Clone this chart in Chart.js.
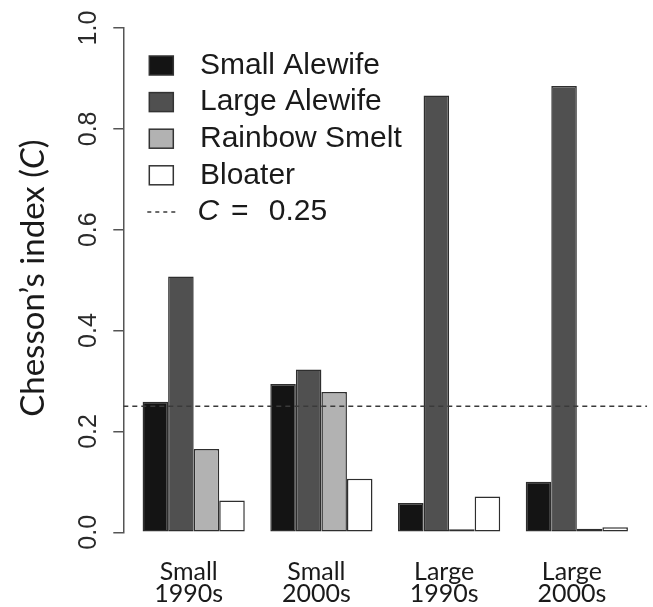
<!DOCTYPE html>
<html>
<head>
<meta charset="utf-8">
<script src="https://cdn.jsdelivr.net/npm/chart.js@4.4.1/dist/chart.umd.min.js"></script>
<style>
    html, body { margin: 0; padding: 0; background: #fff; }
    #wrap { width: 653px; height: 607px; }
</style>
</head>
<body>
<div id="wrap"><canvas id="chesson-chart"></canvas></div>
<script>
// Groups on the x axis (two-line labels)
const groups = [['Small', '1990s'], ['Small', '2000s'], ['Large', '1990s'], ['Large', '2000s']];
const seriesNames = ['Small Alewife', 'Large Alewife', 'Rainbow Smelt', 'Bloater'];
const smallAlewife = [0.259, 0.294, 0.058, 0.100];
const largeAlewife = [0.507, 0.323, 0.866, 0.885];
const rainbowSmelt = [0.165, 0.278, 0.006, 0.007];
const bloater = [0.063, 0.106, 0.071, 0.010];
const yTicks = [0.0, 0.2, 0.4, 0.6, 0.8, 1.0];
const threshold = 0.25;

// axis limits (R-style 4% padding around the bars)
const xMin = 0.449;
const xMax = 4.551;

const fills = ['#141414', '#505050', '#b2b2b2', '#ffffff'];
const seriesValues = [smallAlewife, largeAlewife, rainbowSmelt, bloater];
const sansFont = '"Liberation Sans", Arial, sans-serif';

const barSets = seriesNames.map((name, i) => ({
    type: 'bar',
    label: name,
    data: seriesValues[i].map((v, j) => ({ x: j + 1, y: v })),
    backgroundColor: fills[i],
    borderColor: '#2e2e2e',
    borderWidth: 1.5,
    borderSkipped: false,
    categoryPercentage: 0.8,
    barPercentage: 1,
    order: 1
}));

const refLine = {
    type: 'line',
    label: 'C = ' + threshold.toFixed(2),
    data: [{ x: xMin, y: threshold }, { x: xMax, y: threshold }],
    borderColor: '#3a3a3a',
    borderWidth: 1.6,
    borderDash: [5, 4],
    pointRadius: 0,
    fill: false,
    order: 0
};

// legend drawn inside the plot, like the R figure
const boxLegend = {
    id: 'boxLegend',
    afterDraw(chart) {
        const ctx = chart.ctx;
        const top = 65.5, rowH = 36.6, boxX = 149.3, textX = 200;
        ctx.save();
        ctx.textBaseline = 'middle';
        ctx.font = '30px ' + sansFont;
        chart.data.datasets.forEach((ds, i) => {
            if (ds.type !== 'bar') return;
            const cy = top + i * rowH;
            ctx.fillStyle = ds.backgroundColor;
            ctx.fillRect(boxX, cy - 9.5, 24, 19);
            ctx.strokeStyle = '#333';
            ctx.lineWidth = 1.5;
            ctx.strokeRect(boxX, cy - 9.5, 24, 19);
            ctx.fillStyle = '#1a1a1a';
            ctx.fillText(ds.label, textX, cy);
        });
        // threshold row
        const cy = top + 4 * rowH;
        ctx.strokeStyle = '#3a3a3a';
        ctx.lineWidth = 1.5;
        ctx.setLineDash([4, 4]);
        ctx.beginPath();
        ctx.moveTo(147.3, cy);
        ctx.lineTo(177.3, cy);
        ctx.stroke();
        ctx.setLineDash([]);
        ctx.fillStyle = '#1a1a1a';
        ctx.font = 'italic 30px ' + sansFont;
        ctx.fillText('C', 197.5, cy);
        ctx.font = '30px ' + sansFont;
        ctx.wordSpacing = '12px';
        ctx.fillText('= ' + threshold.toFixed(2), 231, cy);
        ctx.restore();
    }
};

// y axis title with italic C
const yTitle = {
    id: 'yTitle',
    afterDraw(chart) {
        const ctx = chart.ctx;
        const area = chart.chartArea;
        const parts = [['Chesson\u2019s index (', ''], ['C', 'italic '], [')', '']];
        ctx.save();
        ctx.translate(43.5, (area.top + area.bottom) / 2 - 2);
        ctx.rotate(-Math.PI / 2);
        ctx.textBaseline = 'alphabetic';
        ctx.fillStyle = '#1a1a1a';
        let total = 0;
        parts.forEach(p => {
            ctx.font = p[1] + '33px Lato, sans-serif';
            total += ctx.measureText(p[0]).width;
        });
        let x = -total / 2;
        parts.forEach(p => {
            ctx.font = p[1] + '33px Lato, sans-serif';
            ctx.fillText(p[0], x, 0);
            x += ctx.measureText(p[0]).width;
        });
        ctx.restore();
    }
};

const ctx = document.getElementById('chesson-chart').getContext('2d');
new Chart(ctx, {
    type: 'bar',
    data: {
        datasets: [...barSets, refLine]
    },
    options: {
        responsive: true,
        maintainAspectRatio: false,
        animation: false,
        layout: {
            padding: { top: 28, right: 5.8, bottom: 0, left: 0 }
        },
        plugins: {
            legend: { display: false },
            tooltip: { enabled: false }
        },
        scales: {
            x: {
                type: 'linear',
                min: xMin,
                max: xMax,
                offset: false,
                grid: { display: false, drawTicks: false },
                border: { display: false },
                afterBuildTicks: s => { s.ticks = groups.map((g, i) => ({ value: i + 1 })); },
                afterFit: s => { s.height = 74.7; },
                ticks: {
                    callback: (v, i) => groups[i],
                    autoSkip: false,
                    maxRotation: 0,
                    padding: 29,
                    labelOffset: -5,
                    color: '#1a1a1a',
                    font: { family: 'Lato', size: 25, lineHeight: 0.88 }
                }
            },
            y: {
                min: 0,
                max: 1,
                afterBuildTicks: s => { s.ticks = yTicks.map(v => ({ value: v })); },
                afterFit: s => { s.width = 123.3; },
                grid: {
                    drawOnChartArea: false,
                    drawTicks: true,
                    tickLength: 10,
                    color: '#555',
                    lineWidth: 1.5
                },
                border: { display: true, color: '#555', width: 1.5 },
                ticks: {
                    callback: v => v.toFixed(1),
                    minRotation: 90,
                    maxRotation: 90,
                    crossAlign: 'center',
                    padding: 7,
                    color: '#2a2a2a',
                    font: { family: 'Liberation Sans', size: 25 }
                }
            }
        }
    },
    plugins: [boxLegend, yTitle]
});
</script>
</body>
</html>
